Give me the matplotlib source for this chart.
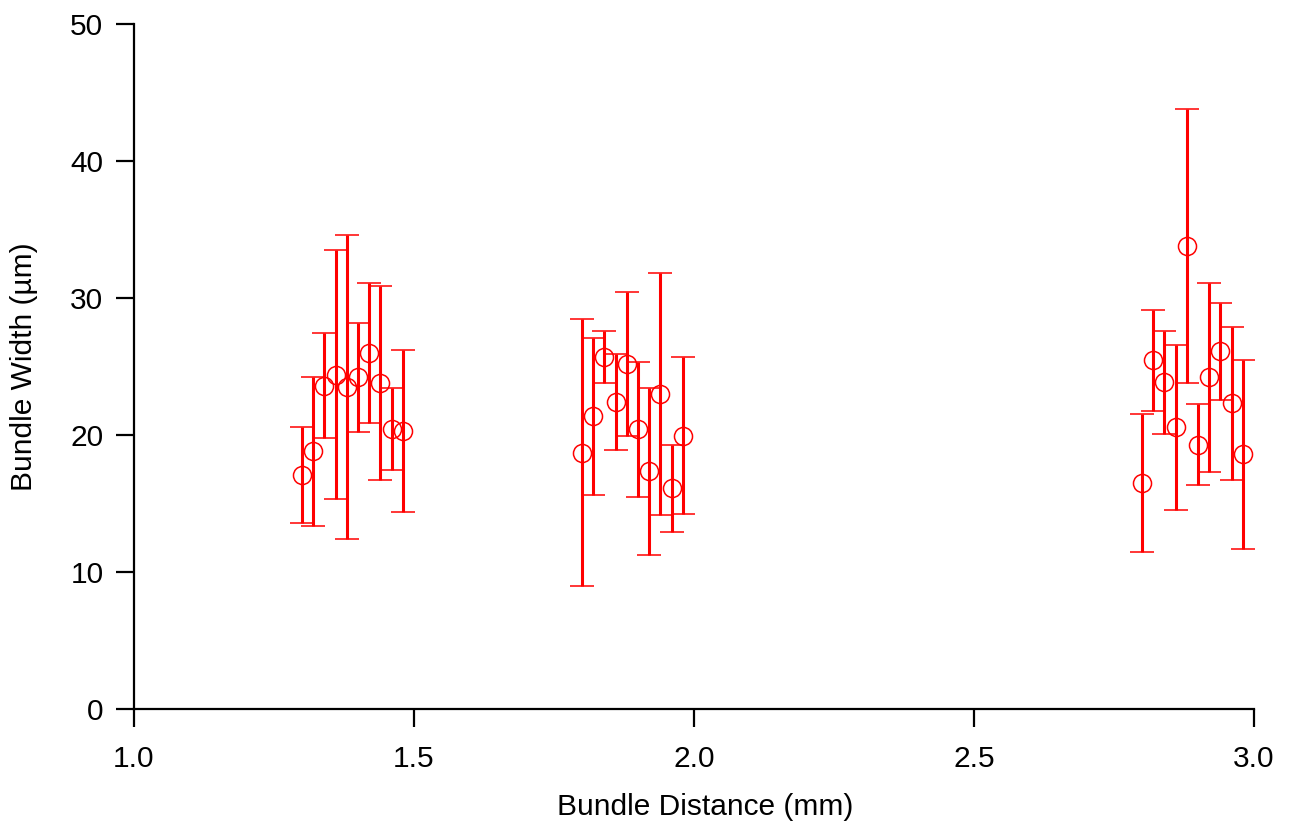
import numpy as np
import matplotlib
matplotlib.use("Agg")
import matplotlib.pyplot as plt

plt.rcParams["font.family"] = ["Liberation Sans", "DejaVu Sans"]

# Dane: odległość wiązki (mm), szerokość (µm) i błąd
distance = [1.30, 1.32, 1.34, 1.36, 1.38, 1.40, 1.42, 1.44, 1.46, 1.48,
            1.80, 1.82, 1.84, 1.86, 1.88, 1.90, 1.92, 1.94, 1.96, 1.98,
            2.80, 2.82, 2.84, 2.86, 2.88, 2.90, 2.92, 2.94, 2.96, 2.98]
width = [17.1, 18.8, 23.6, 24.4, 23.5, 24.2, 26.0, 23.8, 20.45, 20.3,
         18.7, 21.35, 25.7, 22.4, 25.2, 20.4, 17.35, 23.0, 16.1, 19.95,
         16.5, 25.45, 23.85, 20.55, 33.8, 19.3, 24.2, 26.1, 22.3, 18.6]
width_err = [3.5, 5.45, 3.85, 9.1, 11.1, 4.0, 5.1, 7.1, 3.0, 5.9,
             9.75, 5.7, 1.9, 3.5, 5.25, 4.95, 6.1, 8.85, 3.2, 5.75,
             5.05, 3.7, 3.75, 6.0, 10.0, 2.95, 6.9, 3.55, 5.6, 6.9]

fig = plt.figure(figsize=(12.93, 8.24), dpi=100)
ax = fig.add_axes([0.1036, 0.1396, 0.8662, 0.8313])

ax.errorbar(distance, width, yerr=width_err, fmt="o", color="#ff0000",
            markerfacecolor="none", markeredgecolor="#ff0000", markersize=13,
            markeredgewidth=1.1, elinewidth=2.2, capsize=8.5, capthick=2.2)

ax.set_xlim(1.0, 3.0)
ax.set_ylim(0, 50)
ax.set_xticks([1.0, 1.5, 2.0, 2.5, 3.0])
ax.set_xticklabels(["1.0", "1.5", "2.0", "2.5", "3.0"])
ax.set_yticks([0, 10, 20, 30, 40, 50])

ax.spines["top"].set_visible(False)
ax.spines["right"].set_visible(False)
ax.spines["left"].set_linewidth(1.6)
ax.spines["bottom"].set_linewidth(1.6)
ax.tick_params(axis="both", direction="out", length=13, width=1.6, labelsize=21.5)
ax.tick_params(axis="y", pad=9)
ax.tick_params(axis="x", pad=13)

ax.set_xlabel("Bundle Distance (mm)", fontsize=21.5, labelpad=14, x=0.51)
ax.set_ylabel("Bundle Width (µm)", fontsize=21.5, labelpad=23)

fig.savefig("out.png", dpi=100)
